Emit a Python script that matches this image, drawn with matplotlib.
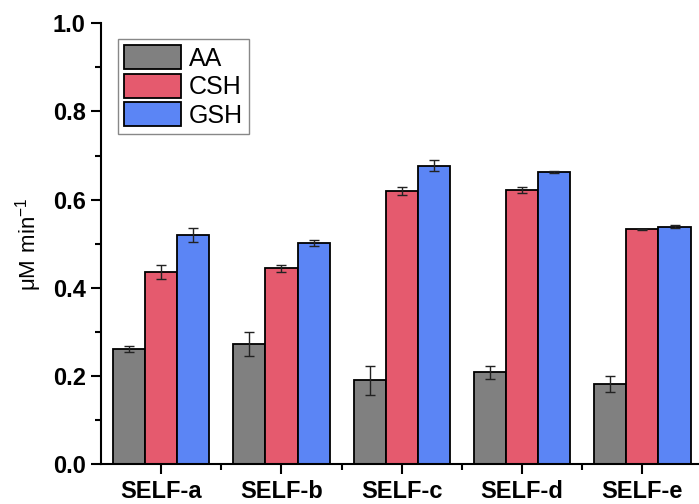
import numpy as np
import matplotlib.pyplot as plt

plt.rcParams['font.family'] = ['Liberation Sans', 'DejaVu Sans']

samples = ["SELF-a", "SELF-b", "SELF-c", "SELF-d", "SELF-e"]
series = ["AA", "CSH", "GSH"]
colors = ["#808080", "#E55A6E", "#5B85F5"]

aa = [0.261, 0.272, 0.191, 0.209, 0.183]
csh = [0.436, 0.444, 0.620, 0.622, 0.533]
gsh = [0.520, 0.502, 0.677, 0.662, 0.539]

aa_err = [0.007, 0.027, 0.033, 0.015, 0.018]
csh_err = [0.015, 0.009, 0.009, 0.006, 0.001]
gsh_err = [0.016, 0.007, 0.012, 0.002, 0.004]

values = [aa, csh, gsh]
errors = [aa_err, csh_err, gsh_err]

fig = plt.figure(figsize=(6.99, 5.04), dpi=100)
ax = fig.add_axes([0.1445, 0.0788, 0.8555, 0.875])

x = np.arange(len(samples))
width = 0.8 / 3
for i, (name, vals, errs, c) in enumerate(zip(series, values, errors, colors)):
    ax.bar(x + (i - 1) * width, vals, width, yerr=errs, color=c,
           edgecolor="black", linewidth=1.3, label=name,
           error_kw=dict(ecolor="#222222", elinewidth=1.0, capsize=3.6, capthick=1.0))

ax.set_xlim(-0.5, 4.47)
ax.set_ylim(0, 1.0)
ax.set_xticks(x)
ax.set_xticklabels(samples, fontsize=17, fontweight="bold")
ax.set_xticks(x[:-1] + 0.5, minor=True)
ax.set_yticks(np.arange(0, 1.01, 0.2))
ax.set_yticklabels([f"{v:.1f}" for v in np.arange(0, 1.01, 0.2)],
                   fontsize=17, fontweight="bold")
ax.set_yticks(np.arange(0.1, 1.0, 0.2), minor=True)

ax.tick_params(which="major", direction="out", length=7, width=1.5, pad=4)
ax.tick_params(which="minor", direction="out", length=4, width=1.5)

for side in ["top", "right"]:
    ax.spines[side].set_visible(False)
for side in ["left", "bottom"]:
    ax.spines[side].set_linewidth(1.5)

ax.set_ylabel(r"$\mathregular{\mu M\ min^{-1}}$", fontsize=16, labelpad=6)

leg = ax.legend(loc="upper left", bbox_to_anchor=(0.028, 0.964), fontsize=18,
                handlelength=2.3, handleheight=1.1, labelspacing=0.12,
                handletextpad=0.3, borderpad=0.25, borderaxespad=0,
                fancybox=False, framealpha=1, edgecolor="#888888")
leg.get_frame().set_linewidth(1.0)

fig.savefig("out.png", dpi=100)
